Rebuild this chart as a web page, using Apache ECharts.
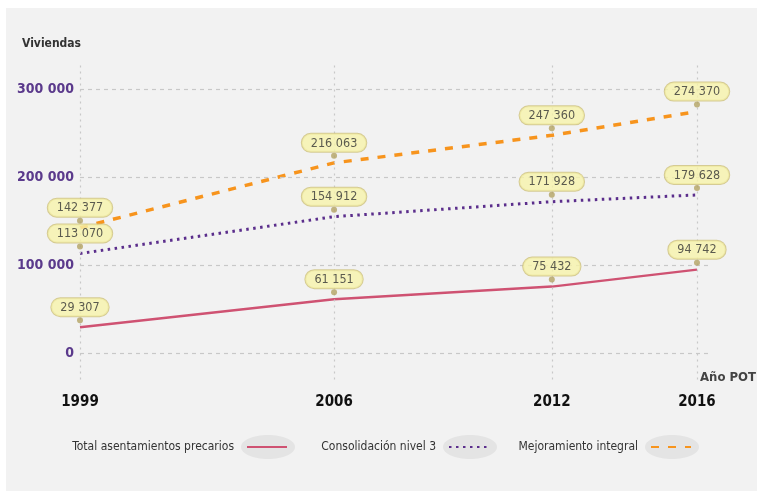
<!DOCTYPE html>
<html>
<head>
<meta charset="utf-8">
<script src="https://cdn.jsdelivr.net/npm/echarts@6/dist/echarts.min.js"></script>
<style>
  html, body { margin: 0; padding: 0; background: #fff; }
  #chart { width: 757px; height: 491px; }
</style>
</head>
<body>
<div id="chart"></div>
<script>
// datos
var years = [1999, 2006, 2012, 2016];
var totalPrecarios = [29307, 61151, 75432, 94742];
var consolidacion = [113070, 154912, 171928, 179628];
var mejoramiento = [142377, 216063, 247360, 274370];
var yTicks = [0, 100000, 200000, 300000];

var FONT = '"DejaVu Sans Condensed", "Liberation Sans", Arial, sans-serif';

function fmt(v) {
    return String(v).replace(/\B(?=(\d{3})+(?!\d))/g, ' ');
}
function pairs(vals) {
    return years.map(function (y, i) { return [y, vals[i]]; });
}

var myChart = echarts.init(document.getElementById('chart'));

// etiquetas amarillas con su puntito
function labelSeries(name, vals) {
    return {
        name: name,
        type: 'scatter',
        data: pairs(vals),
        symbol: 'circle',
        symbolSize: 6,
        symbolOffset: [0, -7],
        itemStyle: { color: '#b3a263' },
        silent: true,
        z: 5,
        label: {
            show: true,
            position: 'top',
            distance: 1,
            formatter: function (p) { return fmt(p.value[1]); },
            color: '#333',
            fontFamily: FONT,
            fontSize: 12.5,
            backgroundColor: '#f6f2aa',
            borderColor: '#cdc17c',
            borderWidth: 1,
            borderRadius: 10,
            padding: [3, 9, 2, 9]
        }
    };
}

var option = {
    backgroundColor: '#fff',
    animation: false,
    grid: { left: 80, right: 45.5, top: 62.6, bottom: 111.6 },
    xAxis: {
        type: 'value',
        min: 1999,
        max: 2016.4,
        axisLine: { show: false },
        axisTick: { show: false },
        splitLine: { show: false },
        axisLabel: {
            customValues: years,
            margin: 15,
            color: '#111',
            fontWeight: 'bold',
            fontSize: 15,
            fontFamily: FONT,
            formatter: function (v) { return String(v); }
        }
    },
    yAxis: {
        type: 'value',
        min: -30000,
        max: 330000,
        axisLine: { show: false },
        axisTick: { show: false },
        axisLabel: {
            customValues: yTicks,
            margin: 6,
            color: '#5b3a8c',
            fontWeight: 'bold',
            fontSize: 14,
            fontFamily: FONT,
            formatter: function (v) { return fmt(v); }
        },
        splitLine: { show: false }
    },
    legend: [
        { data: ['Total asentamientos precarios'], right: 469 },
        { data: ['Consolidación nivel 3'], right: 267 },
        { data: ['Mejoramiento integral'], right: 65 }
    ].map(function (l) {
        l.top = 441;
        l.padding = 0;
        l.align = 'right';
        l.itemWidth = 40;
        l.itemHeight = 12;
        l.selectedMode = false;
        l.itemStyle = { opacity: 0 };
        l.textStyle = { color: '#333', fontSize: 12, fontFamily: FONT, padding: [0, 8, 0, 0] };
        return l;
    }),
    graphic: [
        { type: 'rect', z: -10, silent: true, shape: { x: 6, y: 8, width: 751, height: 483 }, style: { fill: '#f2f2f2' } },
        { type: 'ellipse', z: -5, silent: true, shape: { cx: 268, cy: 447, rx: 27, ry: 12 }, style: { fill: '#e4e4e4' } },
        { type: 'ellipse', z: -5, silent: true, shape: { cx: 470, cy: 447, rx: 27, ry: 12 }, style: { fill: '#e4e4e4' } },
        { type: 'ellipse', z: -5, silent: true, shape: { cx: 672, cy: 447, rx: 27, ry: 12 }, style: { fill: '#e4e4e4' } },
        { type: 'text', left: 22, top: 38, silent: true, style: { text: 'Viviendas', fill: '#333', font: 'bold 12px ' + FONT } },
        { type: 'text', left: 700, top: 371, silent: true, style: { text: 'Año POT', fill: '#444', font: 'bold 13px ' + FONT } }
    ],
    series: [
        {
            name: 'Total asentamientos precarios',
            type: 'line',
            data: pairs(totalPrecarios),
            symbol: 'none',
            lineStyle: { color: '#cf5272', width: 2.5 },
            itemStyle: { color: '#cf5272' },
            z: 3,
            // rejilla: verticales punteadas y horizontales a trazos
            markLine: {
                silent: true,
                symbol: 'none',
                label: { show: false },
                animation: false,
                lineStyle: { color: '#c8c8c8', type: [2, 4], width: 1.2 },
                data: years.map(function (y) { return { xAxis: y }; })
                    .concat(yTicks.map(function (t) {
                        return { yAxis: t, lineStyle: { type: [4, 4], color: '#c8c8c8', width: 1.2 } };
                    }))
            }
        },
        {
            name: 'Consolidación nivel 3',
            type: 'line',
            data: pairs(consolidacion),
            symbol: 'none',
            lineStyle: { color: '#5b2e8c', width: 3, type: [2.5, 4.5] },
            itemStyle: { color: '#5b2e8c' },
            z: 3
        },
        {
            name: 'Mejoramiento integral',
            type: 'line',
            data: pairs(mejoramiento),
            symbol: 'none',
            lineStyle: { color: '#f7941d', width: 3.5, type: [8, 9] },
            itemStyle: { color: '#f7941d' },
            z: 3
        },
        labelSeries('lbl1', totalPrecarios),
        labelSeries('lbl2', consolidacion),
        labelSeries('lbl3', mejoramiento)
    ]
};

myChart.setOption(option);
window.onresize = function () {
    myChart.resize();
};
</script>
</body>
</html>
